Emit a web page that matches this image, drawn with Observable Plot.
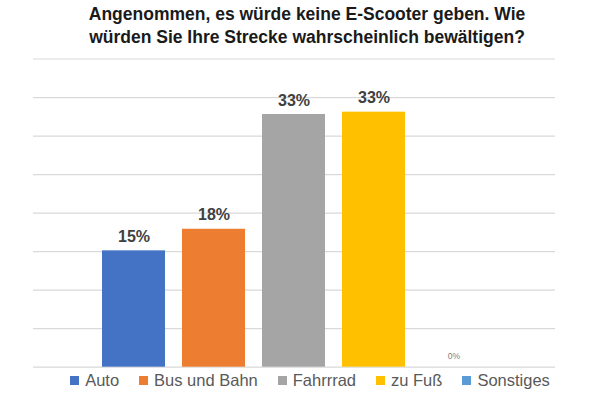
<!DOCTYPE html>
<html>
<head>
<meta charset="utf-8">
<script src="https://cdn.jsdelivr.net/npm/d3@7"></script>
<script src="https://cdn.jsdelivr.net/npm/@observablehq/plot@0.6"></script>
<style>
  html, body { margin: 0; padding: 0; background: #fff; }
  #wrap { width: 600px; height: 400px; position: relative; overflow: hidden; }
  #title { position: absolute; left: 0; top: 3px; width: 614px; text-align: center;
    font-family: "Liberation Sans", Arial, sans-serif; font-weight: bold; font-size: 17.5px;
    line-height: 23px; color: #1a1a1a; }
  #chart { position: absolute; left: 0; top: 52px; }
  #legend { position: absolute; left: 0; top: 371px; width: 620px; display: flex; justify-content: center;
    font-family: "Liberation Sans", Arial, sans-serif; font-size: 16.5px; color: #595959; gap: 20px; }
  .item { display: flex; align-items: center; }
  .sw { width: 9px; height: 9px; margin-right: 6px; display: inline-block; }
</style>
</head>
<body>
<div id="wrap">
  <div id="title">Angenommen, es würde keine E-Scooter geben. Wie<br>würden Sie Ihre Strecke wahrscheinlich bewältigen?</div>
  <div id="chart"></div>
  <div id="legend"></div>
</div>
<script>
const categories = ["Auto", "Bus und Bahn", "Fahrrrad", "zu Fuß", "Sonstiges"];
const values = [15.1, 17.9, 32.8, 33.1, 0];
const labels = ["15%", "18%", "33%", "33%", "0%"];
const colors = ["#4472C4", "#ED7D31", "#A5A5A5", "#FFC000", "#5B9BD5"];
const gridTicks = [0, 5, 10, 15, 20, 25, 30, 35, 40];

const data = categories.map((c, i) => ({category: c, value: values[i], label: labels[i], color: colors[i]}));

const chart = Plot.plot({
  width: 600,
  height: 320,
  marginTop: 6.5,
  marginBottom: 5.3,
  marginLeft: 33,
  marginRight: 45,
  style: {background: "transparent"},
  x: {domain: categories, range: [93.3, 493.3], paddingInner: 0.21, paddingOuter: 0.105, axis: null},
  y: {domain: [0, 40], axis: null},
  marks: [
    Plot.ruleY(gridTicks, {stroke: "#d9d9d9", strokeWidth: 1.2}),
    Plot.barY(data, {x: "category", y: "value", fill: "color"}),
    Plot.text(data.filter(d => d.value > 0), {x: "category", y: "value", text: "label", dy: -14,
      fontFamily: "Liberation Sans, Arial, sans-serif", fontWeight: "bold", fontSize: 16, fill: "#404040"}),
    Plot.text(data.filter(d => d.value === 0), {x: "category", y: "value", text: "label", dy: -11,
      fontFamily: "Liberation Sans, Arial, sans-serif", fontSize: 8.5, fill: "#7f7f7f"})
  ]
});
document.getElementById("chart").appendChild(chart);

const legend = document.getElementById("legend");
categories.forEach((c, i) => {
  const item = document.createElement("div");
  item.className = "item";
  const sw = document.createElement("span");
  sw.className = "sw";
  sw.style.background = colors[i];
  const t = document.createElement("span");
  t.textContent = c;
  item.appendChild(sw);
  item.appendChild(t);
  legend.appendChild(item);
});
</script>
</body>
</html>
